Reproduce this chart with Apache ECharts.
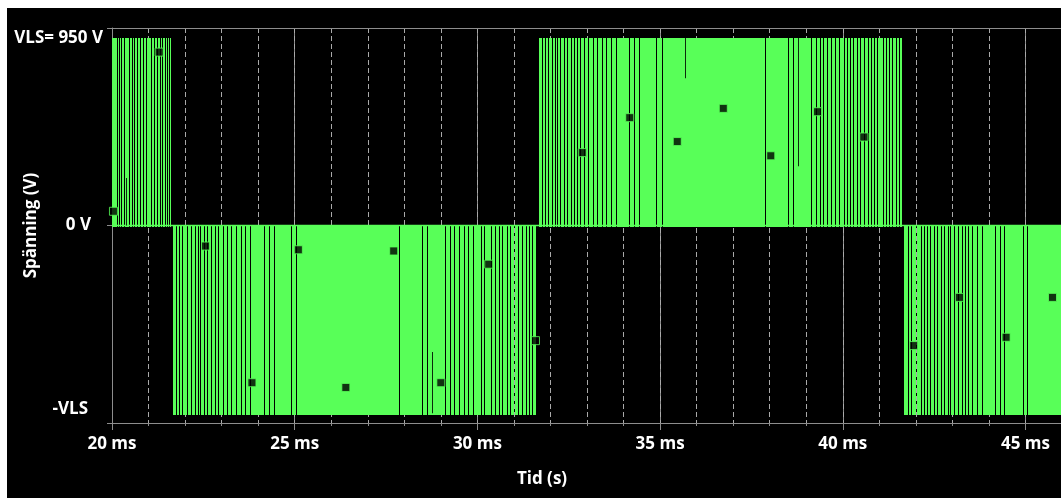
<!DOCTYPE html>
<html>
<head>
<meta charset="utf-8">
<script src="https://cdn.jsdelivr.net/npm/echarts@6/dist/echarts.min.js"></script>
<style>
  html, body { margin: 0; padding: 0; background: #ffffff; }
  #chart { position: absolute; left: 7px; top: 8px; width: 1054px; height: 490px; background: #000; }
</style>
</head>
<body>
<div id="chart"></div>
<script>
// Link voltage level (V)
const VLS = 950;

// Half-cycle blocks of the PWM output: start (ms), end (ms), level (V)
const blockStart = [20.00, 21.66, 31.68, 41.68];
const blockEnd   = [21.61, 31.60, 41.61, 46.00];
const blockLevel = [950, -950, 950, -950];

// Instants (ms) where the output drops back to 0 V long enough to be seen
const gapsA = [20.13, 20.20, 20.25, 20.33, 20.46, 20.54, 20.61, 20.69, 20.77, 20.84, 20.92,
               21.07, 21.14, 21.22, 21.30, 21.37, 21.44, 21.51, 21.56];
const gapsB = [21.75, 21.84, 21.91, 22.06, 22.16, 22.26, 22.34, 22.41, 22.52, 22.61, 22.71,
               22.82, 22.91, 23.03, 23.14, 23.26, 23.39, 23.53, 23.65, 23.78, 24.15, 24.29,
               24.42, 24.90, 25.04, 27.86, 28.49, 28.62, 29.10, 29.24, 29.37, 29.51, 29.64,
               29.73, 29.87, 30.10, 30.17, 30.38, 30.47, 30.60, 30.68, 30.81, 30.90, 31.00,
               31.10, 31.23, 31.32, 31.41, 31.50];
const gapsC = [31.77, 31.84, 31.93, 32.05, 32.12, 32.18, 32.27, 32.36, 32.46, 32.55, 32.64,
               32.73, 32.82, 32.91, 33.03, 33.17, 33.28, 33.40, 33.53, 33.66, 33.79, 34.16,
               34.30, 34.42, 34.90, 35.04, 37.87, 38.50, 38.63, 39.12, 39.26, 39.38, 39.47,
               39.58, 39.67, 39.78, 39.90, 40.02, 40.11, 40.20, 40.29, 40.40, 40.47, 40.57,
               40.68, 40.77, 40.86, 40.95, 41.09, 41.18, 41.27, 41.36, 41.45, 41.54];
const gapsD = [41.79, 41.88, 42.00, 42.14, 42.23, 42.30, 42.39, 42.50, 42.59, 42.68, 42.77,
               42.87, 42.94, 43.05, 43.16, 43.25, 43.34, 43.42, 43.55, 43.67, 43.80, 44.16,
               44.31, 44.42, 44.92, 45.04];

// Short partial notches: time (ms), from (V), to (V)
const notchTime = [20.39, 28.76, 35.67, 38.77];
const notchFrom = [0, -640, 950, 950];
const notchTo   = [240, -950, 745, 300];

// Sampled points shown with markers
const markerTimes  = [20.04, 21.29, 22.56, 23.83, 25.10, 26.40, 27.71, 29.00, 30.31, 31.59, 32.87,
                      34.17, 35.47, 36.73, 38.03, 39.31, 40.58, 41.94, 43.19, 44.47, 45.74];
const markerValues = [72, 878, -104, -796, -123, -820, -129, -796, -196, -583, 369,
                      546, 425, 593, 353, 576, 448, -608, -364, -566, -364];

// Axis texts
const yLabelValues = [950, 0, -950];
const yLabelTexts  = ['VLS= 950 V', '0 V', '-VLS'];
const yLabelStyles = ['top', 'zero', 'bottom'];
const xLabelUnit = ' ms';

const GREEN = '#58ff58';
const blockGaps = [gapsA, gapsB, gapsC, gapsD];

const chart = echarts.init(document.getElementById('chart'));

function renderBlock(params, api) {
  const i = params.dataIndex;
  const t0 = api.value(0), t1 = api.value(1), lv = api.value(2);
  const pZero = api.coord([t0, 0]);
  const pLev = api.coord([t0, lv]);
  const x0 = Math.round(pZero[0]);
  const x1 = Math.round(api.coord([t1, 0])[0]);
  const yTop = Math.round(Math.min(pZero[1], pLev[1]));
  const h = Math.round(Math.abs(pLev[1] - pZero[1])) + 1;
  const children = [];
  const pushRect = (a, b) => children.push({
    type: 'rect', shape: { x: a, y: yTop, width: b - a, height: h },
    style: { fill: GREEN }
  });
  let cur = x0;
  blockGaps[i].forEach(g => {
    const gx = Math.round(api.coord([g, 0])[0]);
    if (gx > cur) pushRect(cur, gx);
    cur = gx + 1;
  });
  if (x1 > cur) pushRect(cur, x1);
  return { type: 'group', children };
}

function renderNotch(params, api) {
  const t = api.value(0);
  const a = api.coord([t, api.value(1)]);
  const b = api.coord([t, api.value(2)]);
  const x = Math.round(a[0]);
  return {
    type: 'rect',
    shape: { x: x, y: Math.min(a[1], b[1]), width: 1, height: Math.abs(a[1] - b[1]) },
    style: { fill: '#0c2a0c' }
  };
}

const axisGray = '#8d8d8d';
const dashGray = '#a9a9a9';
const labelFont = { color: '#ffffff', fontWeight: 'bold', fontFamily: 'Open Sans', fontSize: 17 };

chart.setOption({
  backgroundColor: '#000000',
  animation: false,
  grid: { left: 105, right: -1, top: 20, bottom: 75, containLabel: false, outerBoundsMode: 'none' },
  xAxis: [
    {
      type: 'value', min: 20, max: 46, interval: 5, position: 'bottom',
      axisLine: { show: true, onZero: false, lineStyle: { color: axisGray, width: 1 } },
      axisTick: { show: true, length: 7, lineStyle: { color: axisGray } },
      minorTick: { show: true, splitNumber: 5, length: 3, lineStyle: { color: axisGray } },
      axisLabel: Object.assign({ margin: 13, showMaxLabel: false,
        formatter: v => v + xLabelUnit }, labelFont),
      splitLine: { show: true, lineStyle: { color: axisGray, width: 1, type: 'solid' } },
      name: 'Tid (s)', nameLocation: 'middle', nameGap: 48, nameMoveOverlap: false,
      nameTextStyle: Object.assign({ padding: [0, 90, 0, 0] }, labelFont)
    },
    {
      type: 'value', min: 20, max: 46, interval: 1, position: 'top',
      axisLine: { show: true, onZero: false, lineStyle: { color: axisGray, width: 1 } },
      axisTick: { show: false }, axisLabel: { show: false },
      splitLine: { show: true, lineStyle: { color: dashGray, width: 1, type: [5, 3] } }
    }
  ],
  yAxis: {
    type: 'value', min: -1000, max: 1000, interval: 200,
    axisLine: { show: true, onZero: false, lineStyle: { color: axisGray, width: 1 } },
    axisTick: { show: true, length: 5, customValues: [1000, 0, -1000], lineStyle: { color: axisGray } },
    axisLabel: Object.assign({
      margin: 9, customValues: yLabelValues,
      formatter: v => {
        const k = yLabelValues.indexOf(v);
        return '{' + yLabelStyles[k] + '|' + yLabelTexts[k] + '}';
      },
      rich: {
        top: Object.assign({ padding: [0, 0, 0, 0] }, labelFont),
        zero: Object.assign({ padding: [0, 12, 0, 0] }, labelFont),
        bottom: Object.assign({ padding: [0, 15, 8, 0] }, labelFont)
      }
    }, labelFont),
    splitLine: { show: true, lineStyle: { color: dashGray, width: 1, type: [5, 3] } },
    name: 'Spänning (V)', nameLocation: 'middle', nameGap: 72, nameRotate: 90,
    nameMoveOverlap: false,
    nameTextStyle: labelFont
  },
  series: [
    {
      type: 'line', xAxisIndex: 0, showSymbol: false, silent: true,
      data: [[20, 0], [46, 0]],
      lineStyle: { color: GREEN, width: 1.5 }, z: 3
    },
    {
      type: 'custom', xAxisIndex: 0, renderItem: renderBlock, silent: true, z: 4,
      data: blockStart.map((s, i) => [s, blockEnd[i], blockLevel[i]])
    },
    {
      type: 'custom', xAxisIndex: 0, renderItem: renderNotch, silent: true, z: 5,
      data: notchTime.map((t, i) => [t, notchFrom[i], notchTo[i]])
    },
    {
      type: 'scatter', xAxisIndex: 0, silent: true, z: 6,
      symbol: 'rect', symbolSize: 8,
      itemStyle: { color: '#000000', borderColor: GREEN, borderWidth: 1 },
      data: markerTimes.map((t, i) => [t, markerValues[i]])
    }
  ]
});
</script>
</body>
</html>
